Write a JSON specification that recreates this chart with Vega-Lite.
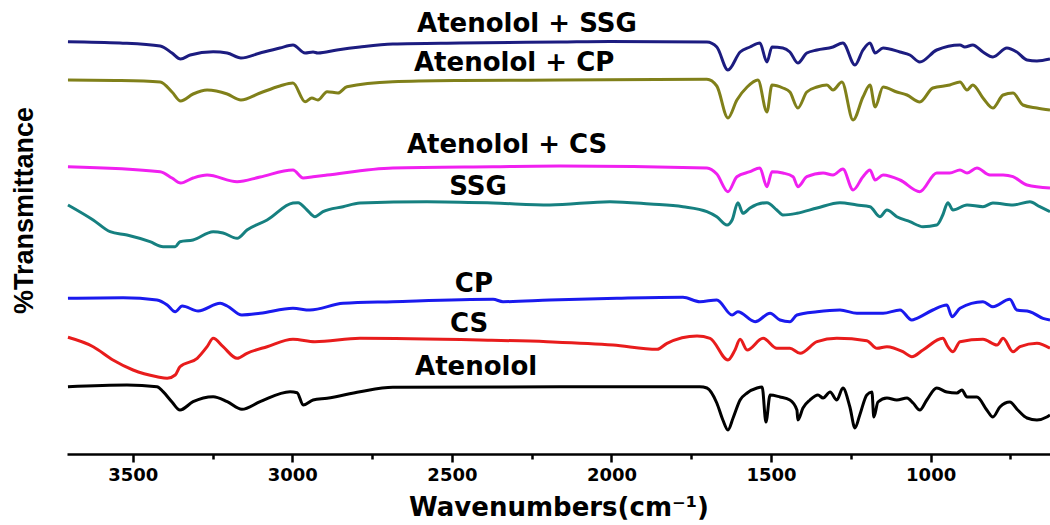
{
  "$schema": "https://vega.github.io/schema/vega-lite/v6.json",
  "width": 983,
  "height": 454,
  "autosize": {"type": "none"},
  "padding": {"left": 67, "top": 0, "right": 0, "bottom": 71},
  "background": "white",
  "config": {"view": {"stroke": null}},
  "datasets": {
    "spectra": [
      {"s":"Atenolol + SSG","w":3703,"t":412.3},{"s":"Atenolol + SSG","w":3540,"t":411},{"s":"Atenolol + SSG","w":3414,"t":408},{"s":"Atenolol + SSG","w":3377,"t":401},{"s":"Atenolol + SSG","w":3350,"t":395},{"s":"Atenolol + SSG","w":3320,"t":399},{"s":"Atenolol + SSG","w":3248,"t":402.3},{"s":"Atenolol + SSG","w":3204,"t":401},{"s":"Atenolol + SSG","w":3161,"t":396},{"s":"Atenolol + SSG","w":3101,"t":401},{"s":"Atenolol + SSG","w":3039,"t":406},{"s":"Atenolol + SSG","w":2998,"t":409},{"s":"Atenolol + SSG","w":2960,"t":401},{"s":"Atenolol + SSG","w":2935,"t":402},{"s":"Atenolol + SSG","w":2920,"t":401},{"s":"Atenolol + SSG","w":2860,"t":404},{"s":"Atenolol + SSG","w":2788,"t":407},{"s":"Atenolol + SSG","w":2685,"t":410},{"s":"Atenolol + SSG","w":2475,"t":411},{"s":"Atenolol + SSG","w":2161,"t":412},{"s":"Atenolol + SSG","w":2005,"t":412.5},{"s":"Atenolol + SSG","w":1701,"t":412},{"s":"Atenolol + SSG","w":1670,"t":407},{"s":"Atenolol + SSG","w":1635,"t":384},{"s":"Atenolol + SSG","w":1597,"t":402},{"s":"Atenolol + SSG","w":1566,"t":407},{"s":"Atenolol + SSG","w":1535,"t":411},{"s":"Atenolol + SSG","w":1513,"t":392},{"s":"Atenolol + SSG","w":1497,"t":407},{"s":"Atenolol + SSG","w":1463,"t":406},{"s":"Atenolol + SSG","w":1441,"t":402},{"s":"Atenolol + SSG","w":1416,"t":391},{"s":"Atenolol + SSG","w":1388,"t":401},{"s":"Atenolol + SSG","w":1356,"t":404},{"s":"Atenolol + SSG","w":1306,"t":407},{"s":"Atenolol + SSG","w":1275,"t":411},{"s":"Atenolol + SSG","w":1237,"t":389},{"s":"Atenolol + SSG","w":1212,"t":404},{"s":"Atenolol + SSG","w":1190,"t":411},{"s":"Atenolol + SSG","w":1174,"t":401},{"s":"Atenolol + SSG","w":1149,"t":406},{"s":"Atenolol + SSG","w":1096,"t":402},{"s":"Atenolol + SSG","w":1065,"t":399},{"s":"Atenolol + SSG","w":1034,"t":392},{"s":"Atenolol + SSG","w":981,"t":404},{"s":"Atenolol + SSG","w":908,"t":409},{"s":"Atenolol + SSG","w":893,"t":407},{"s":"Atenolol + SSG","w":868,"t":409},{"s":"Atenolol + SSG","w":836,"t":402},{"s":"Atenolol + SSG","w":805,"t":397},{"s":"Atenolol + SSG","w":761,"t":406},{"s":"Atenolol + SSG","w":730,"t":402},{"s":"Atenolol + SSG","w":698,"t":394},{"s":"Atenolol + SSG","w":667,"t":393},{"s":"Atenolol + SSG","w":626,"t":395},

      {"s":"Atenolol + CP","w":3703,"t":374},{"s":"Atenolol + CP","w":3540,"t":373.5},{"s":"Atenolol + CP","w":3414,"t":372},{"s":"Atenolol + CP","w":3377,"t":362},{"s":"Atenolol + CP","w":3350,"t":353},{"s":"Atenolol + CP","w":3311,"t":360},{"s":"Atenolol + CP","w":3267,"t":364},{"s":"Atenolol + CP","w":3204,"t":360},{"s":"Atenolol + CP","w":3161,"t":354},{"s":"Atenolol + CP","w":3101,"t":361},{"s":"Atenolol + CP","w":3039,"t":368},{"s":"Atenolol + CP","w":2998,"t":371},{"s":"Atenolol + CP","w":2960,"t":352.3},{"s":"Atenolol + CP","w":2939,"t":356},{"s":"Atenolol + CP","w":2920,"t":354},{"s":"Atenolol + CP","w":2891,"t":362.3},{"s":"Atenolol + CP","w":2857,"t":361},{"s":"Atenolol + CP","w":2829,"t":367.3},{"s":"Atenolol + CP","w":2685,"t":372.3},{"s":"Atenolol + CP","w":2475,"t":373.5},{"s":"Atenolol + CP","w":2161,"t":374},{"s":"Atenolol + CP","w":1701,"t":374.7},{"s":"Atenolol + CP","w":1670,"t":368},{"s":"Atenolol + CP","w":1635,"t":336},{"s":"Atenolol + CP","w":1607,"t":354},{"s":"Atenolol + CP","w":1575,"t":367},{"s":"Atenolol + CP","w":1541,"t":374},{"s":"Atenolol + CP","w":1513,"t":342},{"s":"Atenolol + CP","w":1497,"t":369},{"s":"Atenolol + CP","w":1463,"t":366},{"s":"Atenolol + CP","w":1441,"t":362},{"s":"Atenolol + CP","w":1416,"t":346},{"s":"Atenolol + CP","w":1388,"t":362},{"s":"Atenolol + CP","w":1356,"t":367},{"s":"Atenolol + CP","w":1325,"t":369},{"s":"Atenolol + CP","w":1306,"t":364},{"s":"Atenolol + CP","w":1278,"t":372},{"s":"Atenolol + CP","w":1243,"t":334},{"s":"Atenolol + CP","w":1212,"t":357},{"s":"Atenolol + CP","w":1190,"t":369},{"s":"Atenolol + CP","w":1174,"t":347},{"s":"Atenolol + CP","w":1149,"t":367},{"s":"Atenolol + CP","w":1106,"t":362},{"s":"Atenolol + CP","w":1074,"t":359},{"s":"Atenolol + CP","w":1034,"t":352},{"s":"Atenolol + CP","w":993,"t":366},{"s":"Atenolol + CP","w":940,"t":369},{"s":"Atenolol + CP","w":908,"t":372},{"s":"Atenolol + CP","w":886,"t":364},{"s":"Atenolol + CP","w":868,"t":369},{"s":"Atenolol + CP","w":836,"t":356},{"s":"Atenolol + CP","w":805,"t":346},{"s":"Atenolol + CP","w":773,"t":359},{"s":"Atenolol + CP","w":742,"t":361},{"s":"Atenolol + CP","w":711,"t":349},{"s":"Atenolol + CP","w":667,"t":346},{"s":"Atenolol + CP","w":626,"t":344},

      {"s":"Atenolol + CS","w":3703,"t":287.3},{"s":"Atenolol + CS","w":3414,"t":282.3},{"s":"Atenolol + CS","w":3377,"t":276},{"s":"Atenolol + CS","w":3350,"t":271},{"s":"Atenolol + CS","w":3311,"t":276},{"s":"Atenolol + CS","w":3267,"t":279},{"s":"Atenolol + CS","w":3173,"t":272.3},{"s":"Atenolol + CS","w":3101,"t":277},{"s":"Atenolol + CS","w":2998,"t":284},{"s":"Atenolol + CS","w":2966,"t":276},{"s":"Atenolol + CS","w":2935,"t":277.3},{"s":"Atenolol + CS","w":2891,"t":279},{"s":"Atenolol + CS","w":2685,"t":286},{"s":"Atenolol + CS","w":2371,"t":287.3},{"s":"Atenolol + CS","w":2161,"t":288},{"s":"Atenolol + CS","w":1701,"t":286},{"s":"Atenolol + CS","w":1670,"t":280},{"s":"Atenolol + CS","w":1635,"t":262.3},{"s":"Atenolol + CS","w":1607,"t":277.3},{"s":"Atenolol + CS","w":1566,"t":282.3},{"s":"Atenolol + CS","w":1535,"t":286},{"s":"Atenolol + CS","w":1513,"t":267.3},{"s":"Atenolol + CS","w":1497,"t":282.3},{"s":"Atenolol + CS","w":1463,"t":281},{"s":"Atenolol + CS","w":1431,"t":277.3},{"s":"Atenolol + CS","w":1416,"t":267.3},{"s":"Atenolol + CS","w":1388,"t":277.3},{"s":"Atenolol + CS","w":1337,"t":281},{"s":"Atenolol + CS","w":1306,"t":279},{"s":"Atenolol + CS","w":1275,"t":285},{"s":"Atenolol + CS","w":1243,"t":264},{"s":"Atenolol + CS","w":1212,"t":277.3},{"s":"Atenolol + CS","w":1190,"t":284},{"s":"Atenolol + CS","w":1174,"t":274},{"s":"Atenolol + CS","w":1149,"t":279},{"s":"Atenolol + CS","w":1096,"t":274},{"s":"Atenolol + CS","w":1034,"t":262.3},{"s":"Atenolol + CS","w":981,"t":281},{"s":"Atenolol + CS","w":940,"t":281},{"s":"Atenolol + CS","w":908,"t":284},{"s":"Atenolol + CS","w":886,"t":281},{"s":"Atenolol + CS","w":855,"t":286},{"s":"Atenolol + CS","w":814,"t":279},{"s":"Atenolol + CS","w":773,"t":279},{"s":"Atenolol + CS","w":742,"t":277.3},{"s":"Atenolol + CS","w":698,"t":269},{"s":"Atenolol + CS","w":626,"t":266},

      {"s":"SSG","w":3703,"t":249},{"s":"SSG","w":3624,"t":234},{"s":"SSG","w":3571,"t":222.3},{"s":"SSG","w":3518,"t":219},{"s":"SSG","w":3446,"t":212.3},{"s":"SSG","w":3405,"t":207.3},{"s":"SSG","w":3367,"t":207.3},{"s":"SSG","w":3352,"t":212.3},{"s":"SSG","w":3311,"t":214},{"s":"SSG","w":3248,"t":222.3},{"s":"SSG","w":3217,"t":221},{"s":"SSG","w":3173,"t":215.7},{"s":"SSG","w":3142,"t":224},{"s":"SSG","w":3079,"t":234},{"s":"SSG","w":2998,"t":251},{"s":"SSG","w":2982,"t":251.3},{"s":"SSG","w":2954,"t":244},{"s":"SSG","w":2929,"t":237.3},{"s":"SSG","w":2904,"t":242.3},{"s":"SSG","w":2841,"t":247.3},{"s":"SSG","w":2788,"t":251},{"s":"SSG","w":2578,"t":252.3},{"s":"SSG","w":2371,"t":251},{"s":"SSG","w":2193,"t":249},{"s":"SSG","w":2005,"t":252.3},{"s":"SSG","w":1879,"t":250},{"s":"SSG","w":1776,"t":247.3},{"s":"SSG","w":1701,"t":242.3},{"s":"SSG","w":1670,"t":237.3},{"s":"SSG","w":1638,"t":229},{"s":"SSG","w":1622,"t":234},{"s":"SSG","w":1604,"t":251.3},{"s":"SSG","w":1588,"t":240.7},{"s":"SSG","w":1566,"t":246},{"s":"SSG","w":1513,"t":251.3},{"s":"SSG","w":1482,"t":244},{"s":"SSG","w":1463,"t":239},{"s":"SSG","w":1419,"t":240.7},{"s":"SSG","w":1356,"t":246},{"s":"SSG","w":1284,"t":251.3},{"s":"SSG","w":1231,"t":249},{"s":"SSG","w":1190,"t":247.3},{"s":"SSG","w":1159,"t":237.3},{"s":"SSG","w":1137,"t":244},{"s":"SSG","w":1106,"t":237.3},{"s":"SSG","w":1065,"t":232.3},{"s":"SSG","w":1024,"t":227.3},{"s":"SSG","w":981,"t":229},{"s":"SSG","w":962,"t":239},{"s":"SSG","w":946,"t":251.3},{"s":"SSG","w":930,"t":244},{"s":"SSG","w":886,"t":249},{"s":"SSG","w":836,"t":247.3},{"s":"SSG","w":805,"t":251},{"s":"SSG","w":742,"t":249},{"s":"SSG","w":689,"t":252.3},{"s":"SSG","w":658,"t":247.3},{"s":"SSG","w":626,"t":242.3},

      {"s":"CP","w":3703,"t":155.7},{"s":"CP","w":3530,"t":156.3},{"s":"CP","w":3424,"t":154},{"s":"CP","w":3392,"t":149},{"s":"CP","w":3367,"t":142.3},{"s":"CP","w":3345,"t":148},{"s":"CP","w":3295,"t":143},{"s":"CP","w":3226,"t":150.7},{"s":"CP","w":3204,"t":148},{"s":"CP","w":3158,"t":139},{"s":"CP","w":3101,"t":140.7},{"s":"CP","w":2998,"t":145.7},{"s":"CP","w":2945,"t":144},{"s":"CP","w":2841,"t":150.7},{"s":"CP","w":2685,"t":152.3},{"s":"CP","w":2371,"t":154.7},{"s":"CP","w":2340,"t":152.3},{"s":"CP","w":2193,"t":154},{"s":"CP","w":1983,"t":155.7},{"s":"CP","w":1776,"t":156.7},{"s":"CP","w":1723,"t":152.3},{"s":"CP","w":1670,"t":154},{"s":"CP","w":1622,"t":139},{"s":"CP","w":1604,"t":142.3},{"s":"CP","w":1550,"t":132.3},{"s":"CP","w":1503,"t":140.7},{"s":"CP","w":1472,"t":134},{"s":"CP","w":1441,"t":132.3},{"s":"CP","w":1419,"t":139},{"s":"CP","w":1356,"t":142.3},{"s":"CP","w":1284,"t":144},{"s":"CP","w":1231,"t":140.7},{"s":"CP","w":1149,"t":140.7},{"s":"CP","w":1096,"t":144},{"s":"CP","w":1059,"t":134},{"s":"CP","w":1043,"t":135.7},{"s":"CP","w":993,"t":144},{"s":"CP","w":949,"t":149},{"s":"CP","w":933,"t":137.3},{"s":"CP","w":908,"t":145.7},{"s":"CP","w":836,"t":152.3},{"s":"CP","w":805,"t":147.3},{"s":"CP","w":752,"t":154.7},{"s":"CP","w":730,"t":144},{"s":"CP","w":689,"t":142.3},{"s":"CP","w":648,"t":135.7},{"s":"CP","w":626,"t":134},

      {"s":"CS","w":3703,"t":116.7},{"s":"CS","w":3624,"t":107.3},{"s":"CS","w":3562,"t":94},{"s":"CS","w":3499,"t":84},{"s":"CS","w":3424,"t":77.3},{"s":"CS","w":3392,"t":75.7},{"s":"CS","w":3367,"t":79},{"s":"CS","w":3352,"t":87.3},{"s":"CS","w":3298,"t":95.7},{"s":"CS","w":3267,"t":107.3},{"s":"CS","w":3248,"t":115.7},{"s":"CS","w":3217,"t":107.3},{"s":"CS","w":3173,"t":95.7},{"s":"CS","w":3142,"t":100.7},{"s":"CS","w":3079,"t":107.3},{"s":"CS","w":2998,"t":114.7},{"s":"CS","w":2929,"t":112.3},{"s":"CS","w":2788,"t":115.7},{"s":"CS","w":2412,"t":114},{"s":"CS","w":2202,"t":112.3},{"s":"CS","w":1995,"t":109},{"s":"CS","w":1857,"t":104.7},{"s":"CS","w":1826,"t":110.7},{"s":"CS","w":1732,"t":118},{"s":"CS","w":1691,"t":115.7},{"s":"CS","w":1635,"t":94},{"s":"CS","w":1613,"t":104},{"s":"CS","w":1597,"t":114.7},{"s":"CS","w":1575,"t":104},{"s":"CS","w":1525,"t":115.7},{"s":"CS","w":1482,"t":105.7},{"s":"CS","w":1441,"t":105.7},{"s":"CS","w":1409,"t":100.7},{"s":"CS","w":1356,"t":112.3},{"s":"CS","w":1294,"t":115.7},{"s":"CS","w":1200,"t":113.3},{"s":"CS","w":1168,"t":105.7},{"s":"CS","w":1137,"t":107.3},{"s":"CS","w":1087,"t":102.3},{"s":"CS","w":1059,"t":97.3},{"s":"CS","w":1024,"t":104},{"s":"CS","w":962,"t":115.7},{"s":"CS","w":946,"t":107.3},{"s":"CS","w":930,"t":102.3},{"s":"CS","w":908,"t":112.3},{"s":"CS","w":836,"t":114.7},{"s":"CS","w":792,"t":109},{"s":"CS","w":773,"t":115.7},{"s":"CS","w":742,"t":102.3},{"s":"CS","w":720,"t":107.3},{"s":"CS","w":667,"t":110.7},{"s":"CS","w":626,"t":105.7},

      {"s":"Atenolol","w":3703,"t":67.3},{"s":"Atenolol","w":3518,"t":69},{"s":"Atenolol","w":3424,"t":67.3},{"s":"Atenolol","w":3405,"t":62.3},{"s":"Atenolol","w":3377,"t":52},{"s":"Atenolol","w":3352,"t":44},{"s":"Atenolol","w":3311,"t":52.3},{"s":"Atenolol","w":3248,"t":57.3},{"s":"Atenolol","w":3204,"t":52.3},{"s":"Atenolol","w":3158,"t":44.7},{"s":"Atenolol","w":3101,"t":52.3},{"s":"Atenolol","w":3007,"t":62.3},{"s":"Atenolol","w":2985,"t":61.3},{"s":"Atenolol","w":2966,"t":49},{"s":"Atenolol","w":2935,"t":54},{"s":"Atenolol","w":2891,"t":55.7},{"s":"Atenolol","w":2788,"t":62.3},{"s":"Atenolol","w":2685,"t":66.7},{"s":"Atenolol","w":2161,"t":67.3},{"s":"Atenolol","w":1723,"t":67.3},{"s":"Atenolol","w":1701,"t":66},{"s":"Atenolol","w":1670,"t":51},{"s":"Atenolol","w":1651,"t":34},{"s":"Atenolol","w":1635,"t":24},{"s":"Atenolol","w":1619,"t":36},{"s":"Atenolol","w":1597,"t":54},{"s":"Atenolol","w":1575,"t":61},{"s":"Atenolol","w":1544,"t":66},{"s":"Atenolol","w":1528,"t":67},{"s":"Atenolol","w":1516,"t":32},{"s":"Atenolol","w":1503,"t":59},{"s":"Atenolol","w":1472,"t":57},{"s":"Atenolol","w":1441,"t":54},{"s":"Atenolol","w":1419,"t":44},{"s":"Atenolol","w":1416,"t":34},{"s":"Atenolol","w":1400,"t":46},{"s":"Atenolol","w":1378,"t":54},{"s":"Atenolol","w":1353,"t":59},{"s":"Atenolol","w":1337,"t":56},{"s":"Atenolol","w":1315,"t":62},{"s":"Atenolol","w":1294,"t":54},{"s":"Atenolol","w":1275,"t":66},{"s":"Atenolol","w":1253,"t":47},{"s":"Atenolol","w":1237,"t":26},{"s":"Atenolol","w":1222,"t":39},{"s":"Atenolol","w":1200,"t":59},{"s":"Atenolol","w":1184,"t":62},{"s":"Atenolol","w":1178,"t":37},{"s":"Atenolol","w":1165,"t":52},{"s":"Atenolol","w":1137,"t":56},{"s":"Atenolol","w":1106,"t":54},{"s":"Atenolol","w":1074,"t":56},{"s":"Atenolol","w":1055,"t":51},{"s":"Atenolol","w":1034,"t":44},{"s":"Atenolol","w":1012,"t":54},{"s":"Atenolol","w":981,"t":66},{"s":"Atenolol","w":949,"t":62},{"s":"Atenolol","w":918,"t":61},{"s":"Atenolol","w":902,"t":64},{"s":"Atenolol","w":886,"t":57},{"s":"Atenolol","w":855,"t":57},{"s":"Atenolol","w":824,"t":44},{"s":"Atenolol","w":805,"t":37},{"s":"Atenolol","w":783,"t":47},{"s":"Atenolol","w":752,"t":52},{"s":"Atenolol","w":727,"t":44},{"s":"Atenolol","w":698,"t":36},{"s":"Atenolol","w":667,"t":34},{"s":"Atenolol","w":636,"t":37},{"s":"Atenolol","w":626,"t":39}
    ],
    "labels": [
      {"name":"Atenolol + SSG","w":2265,"t":430},
      {"name":"Atenolol + CP","w":2305,"t":391},
      {"name":"Atenolol + CS","w":2327,"t":309},
      {"name":"SSG","w":2418,"t":267},
      {"name":"CP","w":2431,"t":170},
      {"name":"CS","w":2446,"t":130},
      {"name":"Atenolol","w":2424,"t":87}
    ]
  },
  "layer": [
    {
      "data": {"name": "spectra"},
      "mark": {"type": "line", "strokeWidth": 3, "clip": true, "strokeJoin": "round", "interpolate": "monotone"},
      "encoding": {
        "x": {
          "field": "w", "type": "quantitative",
          "scale": {"domain": [626, 3706], "reverse": true, "nice": false, "zero": false},
          "axis": {
            "values": [3500, 3250, 3000, 2750, 2500, 2250, 2000, 1750, 1500, 1250, 1000, 750],
            "format": "d",
            "labelExpr": "datum.value % 500 === 0 ? datum.label : ''",
            "title": "Wavenumbers(cm⁻¹)",
            "grid": false,
            "domainColor": "black", "domainWidth": 2.5,
            "tickColor": "black", "tickWidth": 2.5,
            "tickSize": {"condition": {"test": "datum.value % 500 !== 0", "value": 5}, "value": 8},
            "labelFont": "DejaVu Sans", "labelFontWeight": "bold", "labelFontSize": 18,
            "labelColor": "black", "labelPadding": 4, "labelFlush": false,
            "titleFont": "DejaVu Sans", "titleFontWeight": "bold", "titleFontSize": 26,
            "titleColor": "black", "titlePadding": 10
          }
        },
        "y": {
          "field": "t", "type": "quantitative",
          "scale": {"domain": [0, 454], "nice": false, "zero": false},
          "axis": {
            "title": "%Transmittance",
            "domain": false, "ticks": false, "labels": false, "grid": false,
            "titleFont": "Liberation Sans Narrow, Liberation Sans", "titleFontWeight": "bold",
            "titleFontSize": 27, "titleColor": "black",
            "titleAngle": 270, "titleX": -43, "titleY": 210,
            "titleAlign": "center", "titleBaseline": "middle"
          }
        },
        "color": {
          "field": "s", "type": "nominal", "legend": null,
          "scale": {
            "domain": ["Atenolol + SSG", "Atenolol + CP", "Atenolol + CS", "SSG", "CP", "CS", "Atenolol"],
            "range": ["#1c1c80", "#80801a", "#f020f0", "#168080", "#1a1aee", "#e81c1c", "#000000"]
          }
        }
      }
    },
    {
      "data": {"name": "labels"},
      "mark": {"type": "text", "font": "DejaVu Sans", "fontWeight": "bold", "fontSize": 26, "color": "black", "align": "center", "baseline": "middle"},
      "encoding": {
        "x": {"field": "w", "type": "quantitative"},
        "y": {"field": "t", "type": "quantitative"},
        "text": {"field": "name", "type": "nominal"}
      }
    }
  ]
}
